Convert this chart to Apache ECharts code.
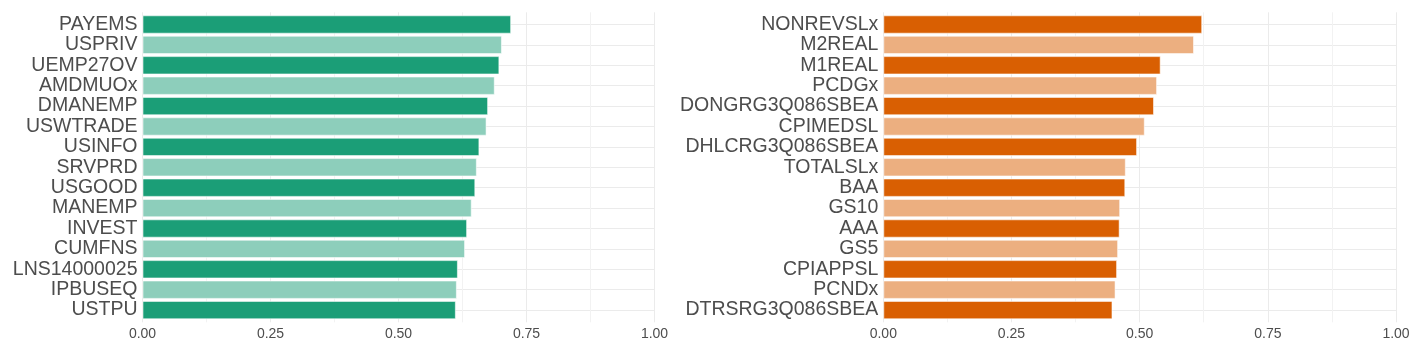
<!DOCTYPE html>
<html>
<head>
<meta charset="utf-8">
<script src="https://cdn.jsdelivr.net/npm/echarts@6/dist/echarts.min.js"></script>
<style>
html,body{margin:0;padding:0;background:#fff;}
#chart{width:1417px;height:354px;}
</style>
</head>
<body>
<div id="chart"></div>
<script>
const leftNames = ['PAYEMS','USPRIV','UEMP27OV','AMDMUOx','DMANEMP','USWTRADE','USINFO','SRVPRD','USGOOD','MANEMP','INVEST','CUMFNS','LNS14000025','IPBUSEQ','USTPU'];
const leftValues = [0.720,0.702,0.697,0.688,0.675,0.672,0.658,0.653,0.650,0.643,0.634,0.630,0.616,0.614,0.612];
const rightNames = ['NONREVSLx','M2REAL','M1REAL','PCDGx','DONGRG3Q086SBEA','CPIMEDSL','DHLCRG3Q086SBEA','TOTALSLx','BAA','GS10','AAA','GS5','CPIAPPSL','PCNDx','DTRSRG3Q086SBEA'];
const rightValues = [0.622,0.606,0.541,0.534,0.528,0.510,0.495,0.473,0.472,0.462,0.461,0.458,0.456,0.453,0.447];
const xTicks = [0, 0.25, 0.5, 0.75, 1];

const leftDark = '#1b9e77', leftLight = '#8dcebb';
const rightDark = '#d95f02', rightLight = '#ecaf80';
const textColor = '#4d4d4d';
const font = 'Liberation Sans, Arial, Helvetica, sans-serif';

const panels = [
  {left: 142.5, right: 762.5},
  {left: 883.3, right: 21}
];
const barTop = 14.3, barBottom = 354 - 320.3;
const panTop = 12.3, panBottom = 354 - 322.3;

const grids = [];
panels.forEach(p => {
  grids.push({left: p.left, right: p.right, top: panTop, bottom: panBottom, containLabel: false});
  grids.push({left: p.left, right: p.right, top: barTop, bottom: barBottom, containLabel: false});
});

const xAxes = [], yAxes = [];
panels.forEach((p, i) => {
  xAxes.push({
    type: 'value', gridIndex: i*2, min: xTicks[0], max: xTicks[xTicks.length-1], interval: 0.25,
    axisLine: {show: false}, axisTick: {show: false},
    axisLabel: {color: textColor, fontSize: 14, fontFamily: font, margin: 5,
      formatter: v => v.toFixed(2)},
    splitLine: {show: true, lineStyle: {color: '#ebebeb', width: 1}},
    minorTick: {show: false, splitNumber: 2},
    minorSplitLine: {show: true, lineStyle: {color: '#f2f2f2', width: 1}}
  });
  yAxes.push({type: 'value', gridIndex: i*2, min: 0, max: 1, show: false, splitLine: {show: false}});
  xAxes.push({type: 'value', gridIndex: i*2+1, min: 0, max: 1, show: false, splitLine: {show: false}});
  yAxes.push({
    type: 'category', gridIndex: i*2+1, inverse: true,
    data: i === 0 ? leftNames : rightNames,
    axisLine: {show: false}, axisTick: {show: false, interval: 0},
    axisLabel: {color: textColor, fontSize: 19.5, fontFamily: font, margin: 5, interval: 0,
      padding: [3, 0, 0, 0]},
    splitLine: {show: true, interval: 0, alignWithLabel: true, lineStyle: {color: '#ebebeb', width: 1}}
  });
});

function barSeries(idx, values, dark, light) {
  return {
    type: 'bar', xAxisIndex: idx, yAxisIndex: idx, data: values,
    barWidth: '90%', barCategoryGap: '10%',
    itemStyle: {
      color: params => params.dataIndex % 2 === 0 ? dark : light,
      borderColor: 'rgba(255,255,255,0.55)', borderWidth: 1
    },
    silent: true, animation: false
  };
}

const chart = echarts.init(document.getElementById('chart'), null, {renderer: 'canvas'});
chart.setOption({
  backgroundColor: '#ffffff',
  animation: false,
  grid: grids,
  xAxis: xAxes,
  yAxis: yAxes,
  series: [
    barSeries(1, leftValues, leftDark, leftLight),
    barSeries(3, rightValues, rightDark, rightLight)
  ]
});
</script>
</body>
</html>
